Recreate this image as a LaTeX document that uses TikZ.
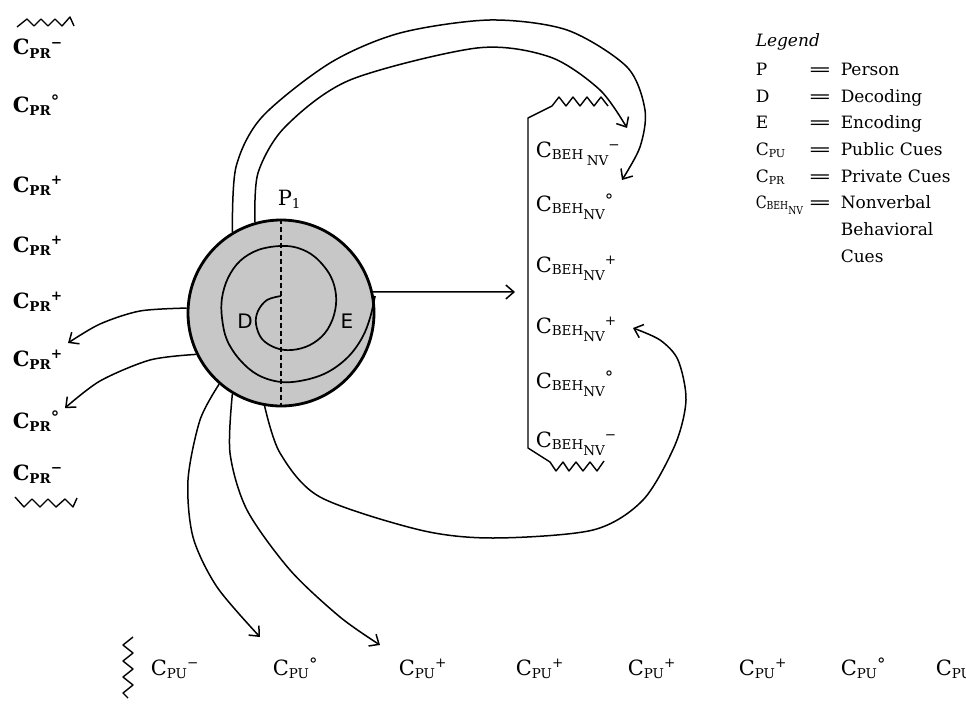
\documentclass[tikz,border=0pt]{standalone}
\usepackage{fontspec}
\setmainfont{DejaVu Serif}
\newfontfamily\legfont{DejaVu Serif}
\newfontfamily\desans{DejaVu Sans}
\usetikzlibrary{arrows.meta}
\newcommand\mainsz{\fontsize{21}{25}\selectfont}
\newcommand\subsz{\fontsize{13.5}{15}\selectfont}
\newcommand\sgn[1]{\raisebox{0.65ex}{\subsz #1}}
\newcommand\Cu[2]{C\raisebox{-0.3ex}{\subsz #1}\sgn{#2}}
\newcommand\Cb[2]{C\raisebox{-0.25ex}{\subsz BEH}#1\raisebox{-0.8ex}{\subsz NV}\sgn{#2}}
\newcommand\mn{\textminus}
\newcommand\dg{\raisebox{-0.3ex}{\fontsize{17}{17}\selectfont °}}
\begin{document}
\begin{tikzpicture}[x=1pt,y=-1pt,line width=1.5pt,line join=round,
  arr/.style={line width=1.5pt,-{Straight Barb[length=8pt,width=14pt,line width=1.5pt]}},
  cue/.style={anchor=base west,inner sep=0pt,font=\mainsz},
  bcue/.style={cue,font=\mainsz\bfseries},
  leg/.style={anchor=base west,inner sep=0pt,font=\legfont\fontsize{17}{20}\selectfont},
  zig/.style={line width=1.4pt},
  person/.style={circle,draw,line width=2.8pt,fill=black!22,minimum size=186pt,inner sep=0pt}]
\useasboundingbox (0,0) rectangle (966,709);

% person circle
\node[person] (P) at (281,313) {};
\draw[line width=1.1pt,dash pattern=on 5pt off 3pt] (P.north) -- (P.south);
\draw[line width=1.7pt] plot[smooth,tension=0.6] coordinates {
 (281,296) (267,300) (258,311) (256,324) (262,339) (276,348) (292,350)
 (310,345) (325,333) (334,315) (336,295) (330,275) (315,257) (298,248)
 (280,246) (258,250) (240,261) (228,278) (222,298) (222,318) (227,340)
 (240,360) (258,375) (281,382) (305,380) (328,372) (348,357) (362,338)
 (370,318) (375,296)};
\node[font=\desans\fontsize{20}{24}\selectfont,inner sep=0pt] (D) at (245,321) {D};
\node[font=\desans\fontsize{20}{24}\selectfont,inner sep=0pt] (E) at (347,321) {E};
\node[cue] (P1) at (277,205) {P\raisebox{-0.3ex}{\subsz 1}};

% left column: private cues
\node[bcue] (L1) at (12,55) {\Cu{PR}{\mn}};
\node[bcue] (L2) at (12,112) {\Cu{PR}{\dg}};
\node[bcue] (L3) at (12,192) {\Cu{PR}{+}};
\node[bcue] (L4) at (12,252) {\Cu{PR}{+}};
\node[bcue] (L5) at (12,308) {\Cu{PR}{+}};
\node[bcue] (L6) at (12,366) {\Cu{PR}{+}};
\node[bcue] (L7) at (12,428) {\Cu{PR}{\dg}};
\node[bcue] (L8) at (12,480) {\Cu{PR}{\mn}};
\draw[zig] (17,27) -- (27,19) -- (34,26) -- (41,19) -- (48,26) -- (55,19) -- (62,26) -- (70,17) -- (74,26);
\draw[zig] (15,497) -- (24,507) -- (32,499) -- (40,507) -- (48,499) -- (56,507) -- (65,499) -- (73,507) -- (77,498);

% bottom row: public cues
\node[cue] (U1) at (150,675) {\Cu{PU}{\mn}};
\node[cue] (U2) at (272,675) {\Cu{PU}{\dg}};
\node[cue] (U3) at (398,675) {\Cu{PU}{+}};
\node[cue] (U4) at (515,675) {\Cu{PU}{+}};
\node[cue] (U5) at (627,675) {\Cu{PU}{+}};
\node[cue] (U6) at (738,675) {\Cu{PU}{+}};
\node[cue] (U7) at (840,675) {\Cu{PU}{\dg}};
\node[cue] (U8) at (935,675) {\Cu{PU}{}};
\draw[zig] (133,637) -- (123,645) -- (133,653) -- (123,661) -- (133,669) -- (123,677) -- (133,685) -- (123,693) -- (128,698);

% behaviour column
\node[cue] (B1) at (535,157) {\Cb{\,}{\mn}};
\node[cue] (B2) at (535,211) {\Cb{}{\dg}};
\node[cue] (B3) at (535,272) {\Cb{}{+}};
\node[cue] (B4) at (535,333) {\Cb{}{+}};
\node[cue] (B5) at (535,388) {\Cb{}{\dg}};
\node[cue] (B6) at (535,447) {\Cb{}{\mn}};
\draw[line width=1.4pt] (608,106) -- (601,97) -- (594,106) -- (587,97) -- (580,106) -- (573,97) -- (566,106) -- (559,97) -- (552,106)
  -- (528,118) -- (528,448) -- (550,462) -- (556,471) -- (563,462) -- (569,471) -- (576,462) -- (583,471) -- (590,462) -- (597,471) -- (604,461);

% arrow targets
\coordinate (t1) at (627,128);
\coordinate (t2) at (622,180);
\coordinate (t3) at (633,328);
\coordinate (t4) at (68,343);
\coordinate (t5) at (65,408);
\coordinate (t6) at (260,637);
\coordinate (t7) at (380,645);
\coordinate (t8) at (515,292);

% connectors
\draw[arr] plot[smooth] coordinates {(P.121) (236,167) (262,117) (330,63) (400,33) (490,20) (567,30) (627,67) (645,110) (640,147) (t2)};
\draw[arr] plot[smooth] coordinates {(P.106) (258,173) (285,127) (350,80) (477,48) (550,57) (600,90) (t1)};
\draw[arr] (P.13) -- (t8);
\draw[arr] plot[smooth] coordinates {(P.177) (140,311) (100,324) (t4)};
\draw[arr] plot[smooth] coordinates {(P.206) (150,360) (100,381) (t5)};
\draw[arr] plot[smooth] coordinates {(P.229) (200,420) (188,480) (193,537) (217,587) (t6)};
\draw[arr] plot[smooth] coordinates {(P.239) (230,453) (247,510) (290,570) (340,617) (t7)};
\draw[arr] plot[smooth] coordinates {(P.260) (280,453) (320,497) (420,530) (493,538) (593,530) (643,500) (675,445) (686,400) (678,360) (660,340) (t3)};

% legend
\node[leg] (lg) at (755,47) {\itshape Legend};
\node[leg] (k1) at (755,75) {P};
\node[leg] (k2) at (755,102) {D};
\node[leg] (k3) at (755,128) {E};
\node[leg] (k4) at (755,155) {C\raisebox{-0.3ex}{\fontsize{11}{13}\selectfont PU}};
\node[leg] (k5) at (755,182) {C\raisebox{-0.3ex}{\fontsize{11}{13}\selectfont PR}};
\node[leg] (k6) at (755,208) {\scalebox{0.84}[1]{C\raisebox{-0.2ex}{\fontsize{11}{13}\selectfont BEH}\raisebox{-0.7ex}{\fontsize{11}{13}\selectfont NV}}};
\foreach \y/\t [count=\i] in {75/Person,102/Decoding,128/Encoding,155/Public Cues,182/Private Cues,208/Nonverbal}{
  \node[leg] (q\i) at (807,\y) {\scalebox{1.7}[1]{=}};
  \node[leg] (v\i) at (840,\y) {\t};
}
\node[leg] (v7) at (840,235) {Behavioral};
\node[leg] (v8) at (840,262) {Cues};
\end{tikzpicture}
\end{document}
